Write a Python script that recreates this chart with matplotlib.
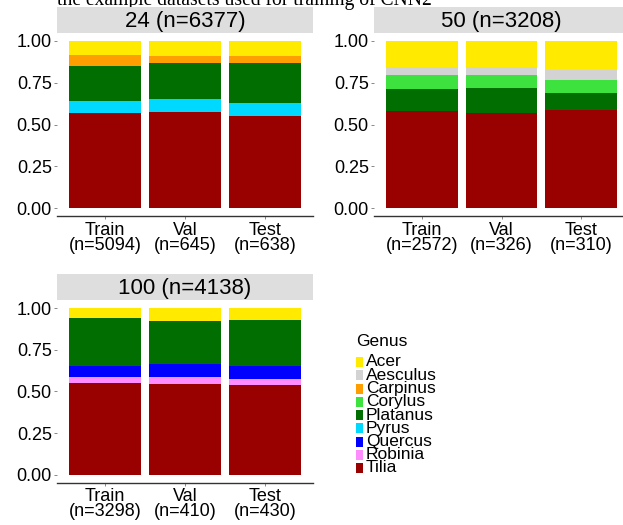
import numpy as np
import matplotlib
matplotlib.use("Agg")
import matplotlib.pyplot as plt
from matplotlib.patches import Rectangle

plt.rcParams['font.family'] = ['Liberation Sans', 'DejaVu Sans']

# ---------------- data ----------------
genera = ['Acer', 'Aesculus', 'Carpinus', 'Corylus', 'Platanus',
          'Pyrus', 'Quercus', 'Robinia', 'Tilia']
genus_colors = ['#FFEA00', '#D3D3D3', '#FF9E00', '#3EE23E', '#006E00',
                '#00D9FF', '#0000FF', '#FF8CFF', '#990000']
splits = ['Train', 'Val', 'Test']

panel_titles = ['24 (n=6377)', '50 (n=3208)', '100 (n=4138)']
split_n_24 = [5094, 645, 638]
split_n_50 = [2572, 326, 310]
split_n_100 = [3298, 410, 430]

# proportions per genus (Train, Val, Test)
p24 = {
    'Tilia':    [0.566, 0.577, 0.553],
    'Pyrus':    [0.074, 0.076, 0.078],
    'Platanus': [0.212, 0.215, 0.237],
    'Carpinus': [0.064, 0.042, 0.044],
    'Acer':     [0.084, 0.090, 0.088],
}
p50 = {
    'Tilia':    [0.579, 0.567, 0.589],
    'Platanus': [0.136, 0.152, 0.102],
    'Corylus':  [0.079, 0.075, 0.073],
    'Aesculus': [0.050, 0.050, 0.060],
    'Acer':     [0.156, 0.156, 0.176],
}
p100 = {
    'Tilia':    [0.550, 0.546, 0.536],
    'Robinia':  [0.036, 0.040, 0.038],
    'Quercus':  [0.068, 0.078, 0.080],
    'Platanus': [0.284, 0.260, 0.274],
    'Acer':     [0.062, 0.076, 0.072],
}

caption = 'the example datasets used for training of CNN2'

# ---------------- figure ----------------
W, H = 623, 525
fig = plt.figure(figsize=(W / 100, H / 100), dpi=100)
color_of = dict(zip(genera, genus_colors))
stack_order = genera[::-1]  # Tilia at bottom, Acer on top

FS = 13
LEG_FS = 12.5
STRIP_FS = 16
STRIP_H = 25.6


def panel(left, top, bottom, width, title, data, ns):
    ax = fig.add_axes([left / W, 1 - bottom / H, width / W, (bottom - top) / H])
    x = np.arange(1, len(splits) + 1)
    base = np.zeros(len(splits))
    for g in stack_order:
        if g in data:
            v = np.array(data[g])
            ax.bar(x, v, 0.9, bottom=base, color=color_of[g], linewidth=0)
            base += v
    ax.set_xlim(0.4, 3.6)
    ax.set_ylim(-0.05, 1.05)
    ax.set_yticks([0, 0.25, 0.5, 0.75, 1.0])
    ax.set_yticklabels(['0.00', '0.25', '0.50', '0.75', '1.00'])
    ax.set_xticks(x)
    ax.set_xticklabels([f'{s}\n(n={n})' for s, n in zip(splits, ns)],
                       linespacing=0.85)
    for s in ['top', 'right', 'left']:
        ax.spines[s].set_visible(False)
    ax.spines['bottom'].set_color('#333333')
    ax.spines['bottom'].set_linewidth(1.0)
    ax.tick_params(axis='both', length=2.2, width=0.7, color='#888888',
                   labelsize=FS, labelcolor='black', pad=1.5)
    ax.set_facecolor('white')
    # strip
    sax = fig.add_axes([left / W, 1 - top / H, width / W, STRIP_H / H])
    sax.set_facecolor('#DEDEDE')
    sax.set_xticks([]); sax.set_yticks([])
    for s in sax.spines.values():
        s.set_visible(False)
    sax.text(0.5, 0.45, title, ha='center', va='center', fontsize=STRIP_FS,
             transform=sax.transAxes)
    return ax


# caption text behind the strips (cut off at the top)
cap = fig.text(57 / W, 1 - 4.5 / H, caption, ha='left', va='baseline',
               fontsize=18, family=['Liberation Serif', 'DejaVu Serif'], zorder=-5)
fig.canvas.draw()
bb = cap.get_window_extent()
cap.set_fontsize(18 * 375 / bb.width)

panel(57, 32.6, 216.4, 256, panel_titles[0], p24, split_n_24)
panel(374, 32.6, 216.4, 255, panel_titles[1], p50, split_n_50)
panel(57, 299.7, 483.0, 256, panel_titles[2], p100, split_n_100)

# legend
fig.text(356 / W, 1 - 341 / H, 'Genus', ha='left', va='center', fontsize=LEG_FS)
for i, (g, c) in enumerate(zip(genera, genus_colors)):
    yc = 362 + i * 13.25
    fig.add_artist(Rectangle((356 / W, 1 - (yc + 5) / H), 7 / W, 10 / H,
                             transform=fig.transFigure, facecolor=c,
                             edgecolor='none'))
    fig.text(366 / W, 1 - yc / H, g, ha='left', va='center', fontsize=LEG_FS)

fig.savefig('out.png', dpi=100)
